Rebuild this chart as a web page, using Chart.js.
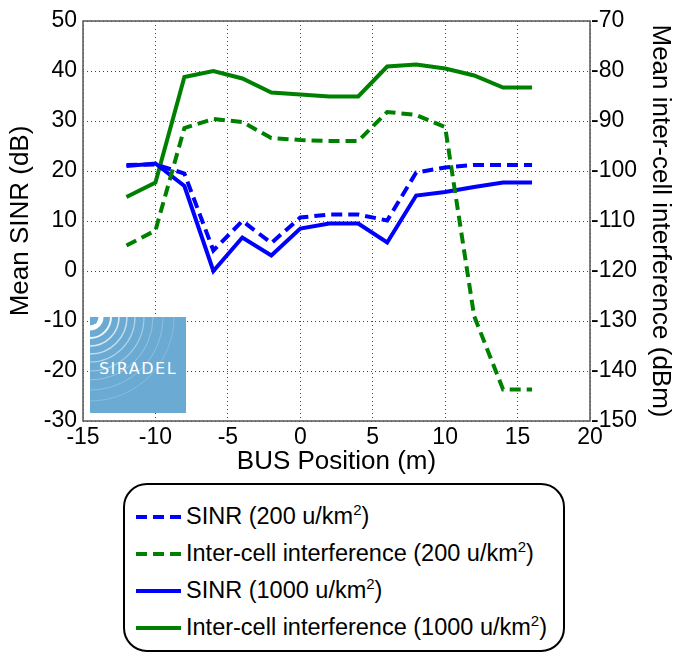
<!DOCTYPE html>
<html>
<head>
<meta charset="utf-8">
<script src="https://cdn.jsdelivr.net/npm/chart.js@4.4.1/dist/chart.umd.min.js"></script>
<style>
  body { margin: 0; background: #fff; }
  #wrap { position: relative; width: 673px; height: 656px; font-family: Arial, 'Liberation Sans', sans-serif; }
  #grafico { position: absolute; left: 0; top: 0; }
  #logo { position: absolute; left: 90px; top: 317px; width: 96px; height: 96px; background: #6aaad3; overflow: hidden; }
  #leyenda { position: absolute; left: 123px; top: 483px; width: 442px; height: 169px; box-sizing: border-box;
             border: 2px solid #000; border-radius: 24px; padding: 13px 0 0 11px; }
  .fila { height: 37px; display: flex; align-items: center; font-size: 23.5px; color: #000; white-space: nowrap; }
  .fila svg { margin-right: 5px; flex: none; }
  .fila sup { font-size: 15px; line-height: 0; vertical-align: 9px; }
</style>
</head>
<body>
<div id="wrap">
  <canvas id="grafico" width="673" height="480"></canvas>
  <div id="logo">
    <svg width="96" height="96" viewBox="0 0 96 96">
      <circle cx="0" cy="0" r="11" fill="none" stroke="#fff" stroke-width="5"/>
      <circle cx="0" cy="0" r="21" fill="none" stroke="#fff" stroke-width="2" opacity="0.9"/>
      <circle cx="0" cy="0" r="29" fill="none" stroke="#fff" stroke-width="1.5" opacity="0.75"/>
      <circle cx="0" cy="0" r="37" fill="none" stroke="#fff" stroke-width="1.5" opacity="0.6"/>
      <circle cx="0" cy="0" r="45" fill="none" stroke="#fff" stroke-width="1.2" opacity="0.5"/>
      <circle cx="0" cy="0" r="54" fill="none" stroke="#fff" stroke-width="1.2" opacity="0.4"/>
      <circle cx="0" cy="0" r="63" fill="none" stroke="#fff" stroke-width="1" opacity="0.3"/>
      <circle cx="0" cy="0" r="73" fill="none" stroke="#fff" stroke-width="1" opacity="0.25"/>
      <circle cx="0" cy="0" r="84" fill="none" stroke="#fff" stroke-width="1" opacity="0.2"/>
      <circle cx="4" cy="4" r="3" fill="#6aaad3"/>
      <text x="48" y="57" text-anchor="middle" fill="#fff" font-size="16" letter-spacing="1.5"
            font-family="'DejaVu Sans', sans-serif">SIRADEL</text>
    </svg>
  </div>
  <div id="leyenda"></div>
</div>
<script>
// Posiciones del bus (m)
const posiciones = [-12, -10, -8, -6, -4, -2, 0, 2, 4, 6, 8, 10, 12, 14, 16];

// SINR medio (dB), eje izquierdo
const sinr200 = [21.2, 21.3, 19.5, 4.1, 10.0, 5.6, 10.7, 11.3, 11.3, 10.1, 19.7, 20.7, 21.2, 21.2, 21.2];
const sinr1000 = [21.0, 21.5, 17.0, 0.0, 6.7, 3.1, 8.5, 9.5, 9.5, 5.7, 15.1, 15.8, 16.8, 17.7, 17.7];

// Interferencia inter-celda media (dBm), eje derecho
const interf200 = [-114.9, -111.9, -91.4, -89.6, -90.2, -93.4, -93.8, -94.0, -94.0, -88.2, -88.8, -91.2, -129.0, -143.7, -143.7];
const interf1000 = [-105.2, -102.3, -81.2, -80.0, -81.5, -84.3, -84.7, -85.1, -85.1, -79.1, -78.7, -79.5, -80.9, -83.3, -83.3];

// Etiquetas de la leyenda
const etiquetas = ['SINR (200 u/km<sup>2</sup>)', 'Inter-cell interference (200 u/km<sup>2</sup>)',
                   'SINR (1000 u/km<sup>2</sup>)', 'Inter-cell interference (1000 u/km<sup>2</sup>)'];

const AZUL = '#0000ff';
const VERDE = '#008000';
const TRAZO = [11, 6];

function puntos(valores) {
    return posiciones.map((x, i) => ({ x: x, y: valores[i] }));
}

const series = [
    { label: etiquetas[0], data: puntos(sinr200), borderColor: AZUL, borderDash: TRAZO, yAxisID: 'y' },
    { label: etiquetas[1], data: puntos(interf200), borderColor: VERDE, borderDash: TRAZO, yAxisID: 'y2' },
    { label: etiquetas[2], data: puntos(sinr1000), borderColor: AZUL, borderDash: [], yAxisID: 'y' },
    { label: etiquetas[3], data: puntos(interf1000), borderColor: VERDE, borderDash: [], yAxisID: 'y2' }
];
series.forEach(s => { s.borderWidth = 4; s.pointRadius = 0; s.fill = false; s.tension = 0; });

// Marco alrededor del área del gráfico
const marco = {
    id: 'marco',
    beforeDatasetsDraw(chart) {
        const { ctx, chartArea: a } = chart;
        ctx.save();
        ctx.strokeStyle = '#555';
        ctx.lineWidth = 1.5;
        ctx.strokeRect(a.left, a.top, a.right - a.left, a.bottom - a.top);
        ctx.restore();
    }
};

Chart.defaults.font.family = "Arial, 'Liberation Sans', sans-serif";
Chart.defaults.font.size = 23;
Chart.defaults.color = '#000';

const rejilla = { color: '#444', lineWidth: 1, drawTicks: false };
const fuenteTitulo = { size: 26, lineHeight: 1 };

new Chart(document.getElementById('grafico').getContext('2d'), {
    type: 'line',
    data: { datasets: series },
    options: {
        responsive: false,
        animation: false,
        layout: { padding: { top: 21, left: 0, right: 0, bottom: 0 } },
        plugins: { legend: { display: false }, tooltip: { enabled: false } },
        scales: {
            x: {
                type: 'linear', min: -15, max: 20,
                ticks: { stepSize: 5, padding: 3, maxRotation: 0 },
                grid: rejilla,
                border: { display: false, dash: [1, 3] },
                title: { display: true, text: 'BUS Position (m)', font: fuenteTitulo, padding: { top: 0, bottom: 5 } },
                afterFit(scale) { scale.height = 59; }
            },
            y: {
                position: 'left', min: -30, max: 50,
                ticks: { stepSize: 10, padding: 6 },
                grid: rejilla,
                border: { display: false, dash: [1, 3] },
                title: { display: true, text: 'Mean SINR (dB)', font: fuenteTitulo, padding: { top: 8, bottom: 0 } },
                afterFit(scale) { scale.width = 83; }
            },
            y2: {
                position: 'right', min: -150, max: -70,
                ticks: { stepSize: 10, padding: 1 },
                grid: { display: false, drawTicks: false },
                border: { display: false },
                title: { display: true, text: 'Mean inter-cell interference (dBm)', font: fuenteTitulo, padding: { top: 0, bottom: 0 } },
                afterFit(scale) { scale.width = 83; }
            }
        }
    },
    plugins: [marco]
});

// Leyenda en HTML para poder usar superíndices
const leyenda = document.getElementById('leyenda');
series.forEach(s => {
    const fila = document.createElement('div');
    fila.className = 'fila';
    const dash = s.borderDash.length ? s.borderDash.join(',') : 'none';
    fila.innerHTML = `<svg width="45" height="10"><line x1="0" y1="5" x2="45" y2="5" stroke="${s.borderColor}"
        stroke-width="4" stroke-dasharray="${dash}"/></svg><span>${s.label}</span>`;
    leyenda.appendChild(fila);
});
</script>
</body>
</html>
